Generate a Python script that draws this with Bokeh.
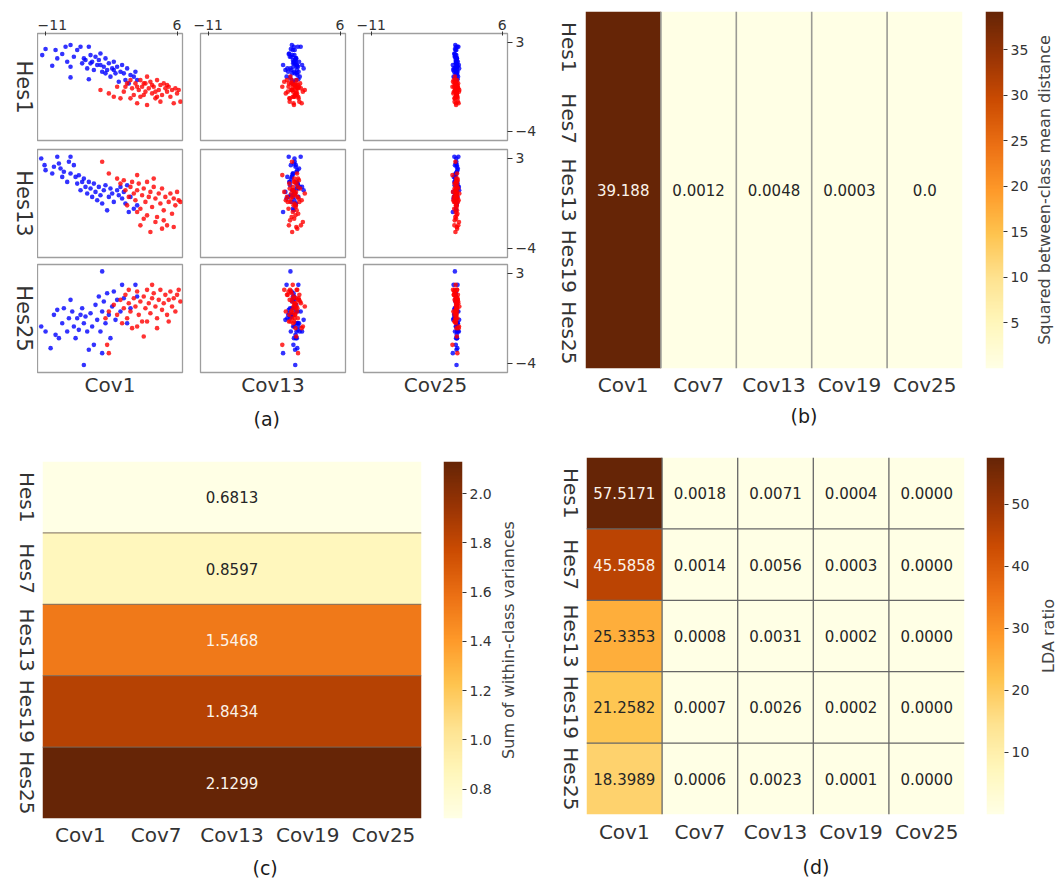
import math
import numpy as np
from bokeh.plotting import figure
from bokeh.models import (Range1d, LinearAxis, CategoricalAxis, FixedTicker, Title, Span, Spacer,
                          LinearColorMapper, FactorRange, ColumnDataSource, PrintfTickFormatter)
from bokeh.layouts import row, column
from bokeh.embed import file_html
from bokeh.resources import INLINE
from bokeh.core.properties import value

# ----------------------------------------------------------------- data
COVS = ["Cov1", "Cov7", "Cov13", "Cov19", "Cov25"]
HES = ["Hes1", "Hes7", "Hes13", "Hes19", "Hes25"]

# (b) squared between-class mean distance (per Cov)
between_dist = [39.188, 0.0012, 0.0048, 0.0003, 0.0]
# (c) sum of within-class variances (per Hes)
within_var = [0.6813, 0.8597, 1.5468, 1.8434, 2.1299]
# (d) LDA ratio, rows Hes1..Hes25, columns Cov1..Cov25
lda_hes1 = [57.5171, 0.0018, 0.0071, 0.0004, 0.0000]
lda_hes7 = [45.5858, 0.0014, 0.0056, 0.0003, 0.0000]
lda_hes13 = [25.3353, 0.0008, 0.0031, 0.0002, 0.0000]
lda_hes19 = [21.2582, 0.0007, 0.0026, 0.0002, 0.0000]
lda_hes25 = [18.3989, 0.0006, 0.0023, 0.0001, 0.0000]

cb_ticks_b = [5, 10, 15, 20, 25, 30, 35]
cb_ticks_c = [0.8, 1.0, 1.2, 1.4, 1.6, 1.8, 2.0]
cb_ticks_d = [10, 20, 30, 40, 50]

# (a) scatter samples
scatter_cols = ["Cov1", "Cov13", "Cov25"]
scatter_rows = ["Hes1", "Hes13", "Hes25"]
x_ticks_a = [-11, 6]
y_ticks_a = [3, -4]

h1_blue_cov1 = [-11.39, -10.96, -10.10, -9.67, -9.45, -8.81, -8.38, -8.17, -7.74, -7.74,
                -7.31, -6.88, -6.45, -6.24, -6.02, -5.59, -5.38, -5.16, -4.95, -4.73,
                -4.52, -4.30, -4.09, -3.88, -3.66, -3.45, -3.23, -3.02, -2.80, -2.59,
                -2.37, -2.16, -1.94, -1.73, -1.52, -1.30, -1.09, -0.87, -0.66, -0.44,
                -0.23, -0.01, 0.42, 0.63, 0.85, -7.74, -5.38, -5.81, -5.16, -3.88, -3.23, -2.16]
h1_blue_y = [2.00, 2.48, 1.16, 2.40, 1.74, 2.08, 2.66, 1.48, 2.79, 1.08,
             1.87, 2.40, 2.66, 1.35, 1.74, 0.95, 2.66, 2.00, 1.48, 0.82,
             1.87, 1.22, 1.61, 2.13, 0.69, 1.08, 1.74, 0.82, 1.35, 0.30,
             0.95, 1.48, 0.56, 1.08, -0.10, 0.69, 1.22, 0.56, 0.03, 0.95,
             -0.23, 0.43, 0.30, 0.69, 0.03, 0.24, 0.09, 1.61, 1.35, 1.22, 0.56, 0.82]
h1_red_cov1 = [-3.88, -2.80, -2.16, -1.30, -1.73, -0.87, -0.44, -0.01, 0.20, 0.42,
               0.63, 0.85, 1.06, 1.27, 1.49, 1.70, 1.92, 2.13, 2.13, 2.35,
               2.56, 2.78, 2.99, 3.21, 3.42, 3.64, 3.85, 3.85, 4.06, 4.28,
               4.49, 4.71, 4.92, 5.14, 5.35, 5.57, 5.78, 6.00, 6.43, 6.21,
               0.85, 1.70, 2.78, 3.21, 1.27, 3.42, -0.01, 4.71, -0.66, 1.92]
h1_red_y = [-0.75, -1.02, -1.28, -1.41, -0.49, -0.88, -0.23, 0.03, -0.62, -1.15,
            -0.23, -1.80, -0.75, 0.03, -0.49, -1.15, -0.23, 0.30, -1.93, -0.62,
            -0.10, -1.02, -0.49, -1.41, 0.03, -0.75, -0.36, -1.67, -1.15, -0.23,
            -0.62, -0.88, -0.49, -1.28, -0.75, -1.80, -0.62, -1.02, -1.67, -0.75,
            -0.49, -0.23, -0.36, -0.88, -1.28, -1.28, -1.41, -0.36, -0.49, -0.88]

h13_blue_cov1 = [-11.52, -11.09, -10.96, -10.10, -9.88, -9.45, -9.24, -9.03, -8.81, -8.60,
                 -8.17, -7.95, -7.74, -7.74, -7.31, -7.09, -6.88, -6.67, -6.45, -6.24,
                 -6.02, -5.81, -5.59, -5.38, -5.16, -4.95, -4.73, -4.52, -4.30, -4.09,
                 -3.88, -3.66, -3.45, -3.23, -3.02, -2.80, -2.59, -2.37, -2.16, -1.73,
                 -1.52, -1.30, -1.09, -0.87, -0.66, -0.44, -0.01, 0.42, 0.85, -0.23]
h13_blue_y = [3.00, 2.48, 2.09, 1.83, 2.35, 3.13, 2.61, 2.22, 1.56, 1.96,
              1.17, 2.74, 3.13, 1.83, 2.48, 1.56, 1.04, 1.69, 0.52, 1.17,
              1.43, 0.78, 0.26, 1.17, 0.65, 0.00, 1.04, 0.39, -0.26, 0.78,
              0.13, -0.52, 0.52, 0.91, -1.05, 0.00, 0.65, 0.26, -0.39, 0.52,
              0.13, 0.78, -0.13, 0.39, -0.52, 0.91, 0.00, -0.92, -0.66, -1.18]
h13_red_cov1 = [-3.66, -2.80, -1.73, -1.30, -0.87, -0.66, -0.44, -0.23, -0.01, 0.20,
                0.42, 0.63, 0.85, 1.06, 1.27, 1.49, 1.70, 1.92, 2.13, 2.35,
                2.56, 2.78, 2.99, 3.21, 3.42, 3.64, 3.85, 4.06, 4.28, 4.49,
                4.71, 4.92, 5.14, 5.35, 5.57, 5.78, 6.00, 6.21, 6.43, 2.56,
                4.06, 1.27, 2.13, 3.21, 0.85, 1.70, 4.28, 2.99, 0.85, 5.57]
h13_red_y = [2.74, 1.83, 1.43, 1.04, 1.30, 0.52, -0.66, 0.00, 0.78, 1.17,
             0.26, -0.26, 0.52, 1.04, -0.92, 0.13, 0.65, -0.39, 1.17, 0.00,
             0.39, -0.79, 0.78, -0.13, -1.57, 0.26, -0.52, 0.65, -1.05, 0.00,
             -2.22, -0.39, 0.26, -1.31, -0.13, -0.66, 0.39, -0.26, -0.39, -2.74,
             -2.48, -2.22, -1.44, -1.96, -1.18, -1.70, -1.83, 1.43, 1.70, -2.35]

h25_blue_cov1 = [-11.52, -10.96, -10.31, -9.88, -9.67, -9.45, -9.24, -8.81, -8.60, -8.17,
                 -7.95, -7.74, -7.52, -7.31, -7.09, -6.88, -6.67, -6.45, -6.24, -6.02,
                 -5.81, -5.59, -5.38, -5.16, -4.95, -4.73, -4.52, -4.30, -4.09, -3.88,
                 -3.66, -3.66, -3.45, -3.23, -3.02, -2.80, -2.59, -2.37, -2.16, -1.94,
                 -1.73, -1.30, -1.09, -0.87, -0.44, -0.01, 0.63, 0.85, -6.02, -3.66]
h25_blue_y = [-1.14, -1.53, -2.83, -0.23, -1.79, 0.16, -2.05, -0.88, 0.29, -1.53,
              -0.49, 0.94, 0.03, -1.14, -2.05, -0.49, -1.40, -0.23, 0.29, -0.88,
              -0.36, -1.53, -2.96, -0.10, -1.14, -2.57, 0.55, -0.62, 1.20, -1.53,
              3.16, 0.03, 0.81, -0.88, 1.46, -0.23, -2.05, 0.42, 1.59, -0.62,
              0.94, 0.03, 2.11, 1.07, -0.88, 0.29, 2.11, 1.20, -4.14, -3.22]
h25_red_cov1 = [-3.23, -2.80, -2.16, -1.73, -1.30, -1.09, -0.87, -0.66, -0.44, -0.23,
                -0.01, 0.20, 0.42, 0.63, 0.85, 1.06, 1.27, 1.49, 1.70, 1.92,
                2.13, 2.35, 2.56, 2.78, 2.99, 3.21, 3.42, 3.64, 3.85, 4.06,
                4.28, 4.49, 4.71, 4.92, 5.14, 5.35, 5.57, 5.78, 6.00, 6.43,
                -0.23, 2.13, 3.42, 0.85, 2.78, 4.92, 6.21, -2.80, -3.02, 1.70]
h25_red_y = [-0.49, 0.03, 0.55, -0.23, 0.94, -0.88, 0.29, 1.33, -0.49, 0.68,
             0.03, -1.27, 1.07, 0.42, 1.59, -0.23, 0.81, -0.75, 1.20, 0.29,
             1.72, 0.68, -0.10, 1.07, 1.46, 0.42, -0.49, 0.94, 1.72, 0.16,
             0.68, 1.33, -0.23, 0.94, 1.59, 0.42, 1.07, 0.03, 1.33, 0.81,
             1.72, -0.75, -1.27, -1.14, 2.11, -0.75, 1.72, -3.22, -2.57, -1.92]

cov13_blue_x = [0.12, -0.35, 0.48, -0.10, 0.25, -0.62, 0.05, 0.71, -0.22, 0.38,
                -0.48, 0.15, 0.92, -0.05, 0.30, -0.80, 0.55, -0.15, 0.02, 0.44,
                -0.30, 1.10, 0.20, -0.55, 0.65, -0.02, 0.35, -1.05, 0.10, 0.80,
                -0.40, 0.28, -0.18, 0.58, 0.00, -0.70, 0.42, 0.18, -0.25, 1.30,
                -0.12, 0.50, -0.90, 0.08, 0.33, -0.45, 0.62, -0.08, 0.22, -1.35, 0.40, -0.28]
cov13_red_x = [-0.20, 0.45, 0.10, -0.55, 0.70, -0.05, 0.30, -0.85, 0.55, 0.15,
               -0.30, 1.05, -0.12, 0.38, -0.65, 0.22, 0.85, -0.40, 0.05, 0.50,
               -1.20, 0.28, -0.08, 0.65, -0.25, 1.45, 0.12, -0.50, 0.40, -0.15,
               0.95, -0.75, 0.18, 0.60, -0.35, 0.00, 0.32, -1.00, 0.75, -0.18,
               0.48, -0.60, 0.25, 1.20, -0.10, 0.08, -0.45, 0.58, -1.45, 0.35]
cov25_blue_x = [0.05, -0.12, 0.18, -0.03, 0.10, -0.20, 0.02, 0.25, -0.08, 0.14,
                -0.15, 0.06, 0.32, -0.02, 0.12, -0.28, 0.20, -0.05, 0.00, 0.16,
                -0.10, 0.38, 0.08, -0.18, 0.22, -0.01, 0.13, -0.35, 0.04, 0.28,
                -0.13, 0.09, -0.06, 0.19, 0.01, -0.24, 0.15, 0.07, -0.09, 0.42,
                -0.04, 0.17, -0.30, 0.03, 0.11, -0.16, 0.21, -0.03, 0.08, -0.40, 0.12, -0.09]
cov25_red_x = [-0.07, 0.15, 0.03, -0.18, 0.24, -0.02, 0.10, -0.28, 0.19, 0.05,
               -0.10, 0.35, -0.04, 0.13, -0.22, 0.07, 0.29, -0.13, 0.02, 0.17,
               -0.38, 0.09, -0.03, 0.22, -0.08, 0.44, 0.04, -0.17, 0.14, -0.05,
               0.31, -0.25, 0.06, 0.20, -0.12, 0.00, 0.11, -0.33, 0.26, -0.06,
               0.16, -0.20, 0.08, 0.40, -0.03, 0.03, -0.15, 0.19, -0.45, 0.12]

# ----------------------------------------------------------------- style
FONT = "DejaVu Sans"
INK = "#333333"
YLORBR = ["#ffffe5", "#fff7bc", "#fee391", "#fec44f", "#fe9929",
          "#ec7014", "#cc4c02", "#993404", "#662506"]


def interp_palette(colors, n=256):
    rgb = [tuple(int(c[i:i + 2], 16) for i in (1, 3, 5)) for c in colors]
    out = []
    for k in range(n):
        t = k / (n - 1) * (len(rgb) - 1)
        i = min(int(t), len(rgb) - 2)
        f = t - i
        out.append("#%02x%02x%02x" % tuple(
            int(round(rgb[i][j] + (rgb[i + 1][j] - rgb[i][j]) * f)) for j in range(3)))
    return out


PAL = interp_palette(YLORBR)


def ink_for(v, lo, hi):
    t = (v - lo) / (hi - lo) if hi > lo else 0.0
    c = PAL[min(int(t * (len(PAL) - 1) + 0.5), len(PAL) - 1)]
    r, g, b = [int(c[i:i + 2], 16) / 255 for i in (1, 3, 5)]

    def lin(x):
        return x / 12.92 if x <= 0.03928 else ((x + 0.055) / 1.055) ** 2.4
    lum = 0.2126 * lin(r) + 0.7152 * lin(g) + 0.0722 * lin(b)
    return "#262626" if lum > 0.408 else "#fbf3ea"


def base(fw, fh, xr, yr, left, right, top, bottom, xaxis=None):
    p = figure(frame_width=fw, frame_height=fh, x_range=xr, y_range=yr,
               output_backend="svg", toolbar_location=None,
               x_axis_location=xaxis, y_axis_location=None,
               min_border_left=left, min_border_right=right,
               min_border_top=top, min_border_bottom=bottom)
    p.background_fill_color = "white"
    p.border_fill_color = "white"
    p.outline_line_color = None
    p.xgrid.visible = False
    p.ygrid.visible = False
    return p


def text_axis_kw(size, standoff, color=INK):
    return dict(axis_line_color=None, major_tick_line_color=None, minor_tick_line_color=None,
                major_tick_out=0, major_tick_in=0, major_label_standoff=standoff,
                major_label_text_font=FONT, major_label_text_font_size=size,
                major_label_text_color=color)


def single_label_axis(text, size, standoff, orientation="horizontal", color=INK, dim="y"):
    kw = text_axis_kw(size, standoff, color)
    kw.update(ticker=FixedTicker(ticks=[0.5]), major_label_overrides={0.5: text},
              major_label_orientation=orientation)
    if dim == "x":
        kw["x_range_name"] = "lab"
    return LinearAxis(**kw)


def side_fig(fh, top, bottom, left, right, yr):
    # a 1px-wide frame that only carries a label column
    return base(1, fh, Range1d(0, 1), yr, left, right, top, bottom)


def caption(p, text, offset, standoff):
    p.add_layout(Title(text=text, align="left", offset=offset, standoff=standoff,
                       text_font=FONT, text_font_size="19px",
                       text_font_style="normal", text_color="#1a1a1a"), "below")


# ----------------------------------------------------------------- (a)
rows_data = [
    (h1_blue_cov1, h1_blue_y, h1_red_cov1, h1_red_y),
    (h13_blue_cov1, h13_blue_y, h13_red_cov1, h13_red_y),
    (h25_blue_cov1, h25_blue_y, h25_red_cov1, h25_red_y),
]
col_x = [None, (cov13_blue_x, cov13_red_x), (cov25_blue_x, cov25_red_x)]
row_geom = [(21, 107, 4), (5, 108, 3), (4, 108, 68)]
col_geom = [(0, 145, 9), (9, 145, 9), (9, 144, 30)]

grid_rows = [Spacer(width=529, height=4)]
for r in range(3):
    bx1, by, rx1, ry = rows_data[r]
    top, fh, bottom = row_geom[r]
    lab = side_fig(fh, top, bottom, 1, 27, Range1d(0, 1))
    lab.add_layout(Title(text=scatter_rows[r], align="center", vertical_align="middle",
                         standoff=0, text_font=FONT, text_font_size="21px",
                         text_font_style="normal", text_color=INK), "right")
    figs = [lab]
    for c in range(3):
        left, fw, right = col_geom[c]
        p = base(fw, fh, Range1d(-12.0, 6.7), Range1d(-4.73, 3.70), left, right, top, bottom)
        p.outline_line_color = "#9e9e9e"
        p.outline_line_width = 1.3
        if c == 0:
            bx, rx = bx1, rx1
        else:
            bx = col_x[c][0][:len(by)]
            rx = col_x[c][1][:len(ry)]
        p.scatter(x=bx, y=by, size=4.6, fill_color="#0000ff", fill_alpha=0.8, line_color=None)
        p.scatter(x=rx, y=ry, size=4.6, fill_color="#ff0000", fill_alpha=0.8, line_color=None)
        p.extra_x_ranges = {"lab": Range1d(0, 1)}
        if r == 0:
            p.add_layout(LinearAxis(
                ticker=FixedTicker(ticks=x_ticks_a),
                major_label_overrides={t: str(t).replace("-", "\u2212") for t in x_ticks_a},
                axis_line_color=None, major_tick_out=2, major_tick_in=2,
                major_tick_line_color=INK, minor_tick_line_color=None,
                major_label_standoff=2, major_label_text_font=FONT,
                major_label_text_font_size="14px", major_label_text_color=INK), "above")
        if c == 2:
            p.add_layout(LinearAxis(
                ticker=FixedTicker(ticks=y_ticks_a),
                major_label_overrides={t: str(t).replace("-", "\u2212") for t in y_ticks_a},
                axis_line_color=None, major_tick_out=5, major_tick_in=0,
                major_tick_line_color=INK, minor_tick_line_color=None,
                major_label_standoff=3, major_label_text_font=FONT,
                major_label_text_font_size="14px", major_label_text_color=INK), "right")
        if r == 2:
            p.add_layout(single_label_axis(scatter_cols[c], "20px", 0, dim="x"), "below")
            if c == 1:
                caption(p, "(a)", 53, 12)
        figs.append(p)
    grid_rows.append(row(*figs))
panel_a = column(*grid_rows)


# ----------------------------------------------------------------- heatmaps
def style_x(p, standoff):
    for ax in p.xaxis:
        for k, v in text_axis_kw("20px", standoff).items():
            setattr(ax, k, v)


def hes_label_fig(fh, top, bottom, left, right):
    p = side_fig(fh, top, bottom, left, right, FactorRange(*HES[::-1]))
    ax = CategoricalAxis(major_label_orientation="parallel", **text_axis_kw("20px", 0))
    p.add_layout(ax, "right")
    return p


def colorbar_fig(mapper, lo, hi, ticks, fh, top, bottom, fw, right, fmt=None):
    p = base(fw, fh, Range1d(0, 1), Range1d(lo, hi), 6, right, top, bottom)
    grad = np.linspace(lo, hi, 256).reshape(256, 1)
    p.image(image=[grad], x=0, y=lo, dw=1, dh=hi - lo, color_mapper=mapper)
    ax = LinearAxis(
        ticker=FixedTicker(ticks=ticks), axis_line_color=None,
        major_tick_out=4, major_tick_in=0, major_tick_line_color=INK,
        minor_tick_line_color=None, major_label_standoff=3,
        major_label_text_font=FONT, major_label_text_font_size="14px",
        major_label_text_color=INK)
    if fmt:
        ax.formatter = PrintfTickFormatter(format=fmt)
    p.add_layout(ax, "right")
    return p


def cbar_label_fig(text, fh, top, bottom, left, right):
    p = side_fig(fh, top, bottom, left, right, Range1d(0, 1))
    p.add_layout(single_label_axis(text, "16px", 0, "parallel", "#444444"), "left")
    return p


# (b)
lo_b, hi_b = min(between_dist), max(between_dist)
map_b = LinearColorMapper(palette=PAL, low=lo_b, high=hi_b)
lab_b = hes_label_fig(357, 3, 72, 16, 29)
hb = base(377, 357, FactorRange(*COVS), FactorRange(*HES[::-1]), 0, 17, 3, 72, xaxis="below")
style_x(hb, 4)
src_b = ColumnDataSource(dict(cov=COVS, mid=[HES[len(HES) // 2]] * len(COVS), v=between_dist,
                              txt=[str(v) for v in between_dist],
                              tc=[ink_for(v, lo_b, hi_b) for v in between_dist]))
hb.rect(x="cov", y="mid", width=1, height=len(HES), source=src_b,
        fill_color={"field": "v", "transform": map_b}, line_color=None)
hb.text(x="cov", y="mid", text="txt", text_color="tc", source=src_b, text_align="center",
        text_baseline="middle", text_font=value(FONT), text_font_size="15px")
for k in range(1, len(COVS)):
    hb.add_layout(Span(location=k, dimension="height", line_color="#9a9a94", line_width=1.6))
caption(hb, "(b)", 205, 6)
cb_b = colorbar_fig(map_b, lo_b, hi_b, cb_ticks_b, 357, 3, 72, 18, 28)
cl_b = cbar_label_fig("Squared between-class mean distance", 357, 3, 72, 19, 4)
panel_b = row(lab_b, hb, cb_b, cl_b)

# (c)
lo_c, hi_c = min(within_var), max(within_var)
map_c = LinearColorMapper(palette=PAL, low=lo_c, high=hi_c)
lab_c = hes_label_fig(357, 21, 63, 5, 28)
hc = base(379, 357, FactorRange(*COVS), FactorRange(*HES[::-1]), 0, 16, 21, 63, xaxis="below")
style_x(hc, 4)
src_c = ColumnDataSource(dict(hes=HES, mid=[COVS[len(COVS) // 2]] * len(HES), v=within_var,
                              txt=["%.4f" % v for v in within_var],
                              tc=[ink_for(v, lo_c, hi_c) for v in within_var]))
hc.rect(x="mid", y="hes", width=len(COVS), height=1, source=src_c,
        fill_color={"field": "v", "transform": map_c}, line_color=None)
hc.text(x="mid", y="hes", text="txt", text_color="tc", source=src_c, text_align="center",
        text_baseline="middle", text_font=value(FONT), text_font_size="15px")
for k in range(1, len(HES)):
    hc.add_layout(Span(location=k, dimension="width", line_color="#7a6a5a", line_width=1.3,
                       line_alpha=0.8))
caption(hc, "(c)", 210, 11)
cb_c = colorbar_fig(map_c, lo_c, hi_c, cb_ticks_c, 357, 21, 63, 19, 33, fmt="%.1f")
cl_c = cbar_label_fig("Sum of within-class variances", 357, 21, 63, 19, 22)
panel_c = row(lab_c, hc, cb_c, cl_c)

# (d)
lda_rows = [lda_hes1, lda_hes7, lda_hes13, lda_hes19, lda_hes25]
flat_v = [v for rr in lda_rows for v in rr]
lo_d, hi_d = min(flat_v), max(flat_v)
map_d = LinearColorMapper(palette=PAL, low=lo_d, high=hi_d)
lab_d = hes_label_fig(357, 17, 67, 17, 28)
hd = base(378, 357, FactorRange(*COVS), FactorRange(*HES[::-1]), 0, 16, 17, 67, xaxis="below")
style_x(hd, 5)
src_d = ColumnDataSource(dict(
    cov=[c for _ in HES for c in COVS],
    hes=[h for h in HES for _ in COVS],
    v=flat_v,
    txt=["%.4f" % v for v in flat_v],
    tc=[ink_for(v, lo_d, hi_d) for v in flat_v]))
hd.rect(x="cov", y="hes", width=1, height=1, source=src_d,
        fill_color={"field": "v", "transform": map_d}, line_color=None)
hd.text(x="cov", y="hes", text="txt", text_color="tc", source=src_d, text_align="center",
        text_baseline="middle", text_font=value(FONT), text_font_size="15px")
for k in range(1, len(COVS)):
    hd.add_layout(Span(location=k, dimension="height", line_color="#666666", line_width=1.3))
for k in range(1, len(HES)):
    hd.add_layout(Span(location=k, dimension="width", line_color="#666666", line_width=1.3))
caption(hd, "(d)", 216, 14)
cb_d = colorbar_fig(map_d, lo_d, hi_d, cb_ticks_d, 357, 17, 67, 18, 31)
cl_d = cbar_label_fig("LDA ratio", 357, 17, 67, 19, 1)
panel_d = row(lab_d, hd, cb_d, cl_d)

body = column(row(panel_a, panel_b), row(panel_c, panel_d))
layout = column(Spacer(width=1053, height=8), row(Spacer(width=8, height=873), body))

with open("out.html", "w") as f:
    f.write(file_html(layout, INLINE))
